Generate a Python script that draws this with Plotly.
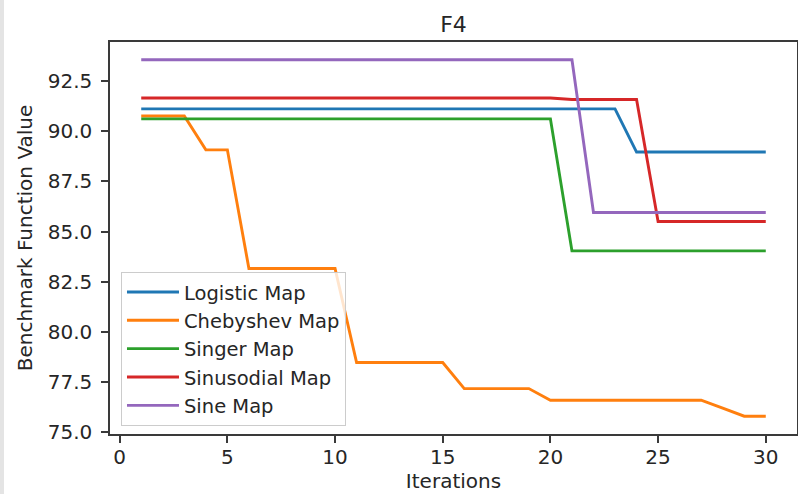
import plotly.graph_objects as go

iterations = list(range(1, 31))

logistic_map = [91.13] * 23 + [88.97] * 7
chebyshev_map = [90.77, 90.77, 90.77, 89.08, 89.08,
                 83.15, 83.15, 83.15, 83.15, 83.15,
                 78.45, 78.45, 78.45, 78.45, 78.45,
                 77.15, 77.15, 77.15, 77.15,
                 76.57, 76.57, 76.57, 76.57, 76.57, 76.57, 76.57, 76.57,
                 76.17, 75.77, 75.77]
singer_map = [90.63] * 20 + [84.03] * 10
sinusodial_map = [91.67] * 20 + [91.60] * 4 + [85.50] * 6
sine_map = [93.58] * 21 + [85.95] * 9

series_names = ["Logistic Map", "Chebyshev Map", "Singer Map", "Sinusodial Map", "Sine Map"]
series_values = [logistic_map, chebyshev_map, singer_map, sinusodial_map, sine_map]
series_colors = ["#1f77b4", "#ff7f0e", "#2ca02c", "#d62728", "#9467bd"]

x_ticks = [0, 5, 10, 15, 20, 25, 30]
y_ticks = [75.0, 77.5, 80.0, 82.5, 85.0, 87.5, 90.0, 92.5]

FONT = "DejaVu Sans"
TXT = "#262626"
AX = "#3a3a3a"
FS = 20

fig = go.Figure()
for name, vals, col in zip(series_names, series_values, series_colors):
    fig.add_trace(go.Scatter(x=iterations, y=vals, mode="lines", name=name,
                             line=dict(color=col, width=2.9)))

fig.update_layout(
    width=798, height=494,
    margin=dict(l=110, r=1, t=42, b=60),
    paper_bgcolor="white", plot_bgcolor="white",
    font=dict(family=FONT, size=FS, color=TXT),
    title=dict(text="F4", x=0.5, xref="paper", xanchor="center",
               y=1 - 24 / 494, yref="container", yanchor="middle",
               font=dict(family=FONT, size=22, color=TXT)),
    showlegend=True,
    legend=dict(x=0.016, y=0.021, xanchor="left", yanchor="bottom",
                bgcolor="rgba(255,255,255,0.8)", bordercolor="#cccccc", borderwidth=1,
                itemwidth=52,
                font=dict(family=FONT, size=19.5, color=TXT)),
    xaxis=dict(range=[-0.45, 31.45], tickvals=x_ticks, ticktext=[str(v) for v in x_ticks],
               showgrid=False, zeroline=False, showline=True, mirror=True, automargin=False,
               linecolor=AX, linewidth=1.5, ticks="outside", ticklen=7, tickwidth=1.5,
               tickcolor=AX, ticklabelstandoff=-3,
               title=dict(text="Iterations", standoff=4, font=dict(family=FONT, size=FS, color=TXT))),
    yaxis=dict(range=[74.88, 94.47], tickvals=y_ticks, ticktext=[f"{v:.1f}" for v in y_ticks],
               showgrid=False, zeroline=False, showline=True, mirror=True, automargin=False,
               linecolor=AX, linewidth=1.5, ticks="outside", ticklen=7, tickwidth=1.5,
               tickcolor=AX, ticklabelstandoff=5,
               title=dict(text="Benchmark Function Value", standoff=10,
                          font=dict(family=FONT, size=FS, color=TXT))),
)

fig.add_shape(type="rect", xref="paper", yref="paper",
              x0=-110 / 687, x1=-106 / 687, y0=-60 / 392, y1=452 / 392,
              fillcolor="#e4e4e4", line=dict(width=0), layer="below")

fig.write_html("out.html", config={"displayModeBar": False},
               post_script="document.body.style.margin='0';document.body.style.overflow='hidden';")
